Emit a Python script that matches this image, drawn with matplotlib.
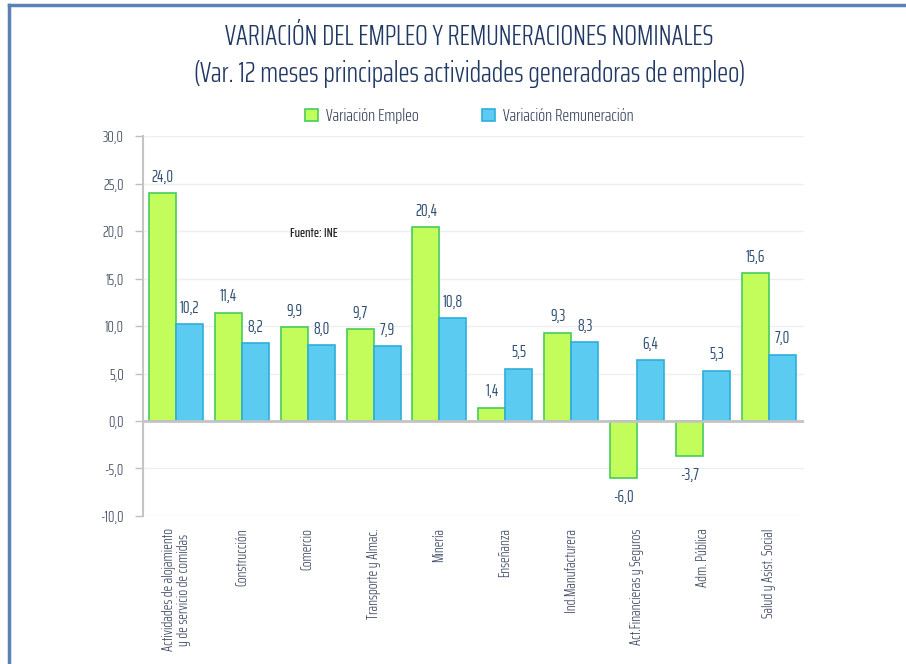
import matplotlib
matplotlib.use('Agg')
import matplotlib.pyplot as plt
import numpy as np
from matplotlib.lines import Line2D

plt.rcParams['font.family'] = ['Saira ExtraCondensed', 'Roboto Condensed', 'DejaVu Sans']
plt.rcParams['font.weight'] = 300

categorias = ['Actividades de alojamiento\ny de servicio de comidas', 'Construcción', 'Comercio',
              'Transporte y Almac.', 'Minería', 'Enseñanza', 'Ind.Manufacturera',
              'Act.Financieras y Seguros', 'Adm. Pública', 'Salud y Asist. Social']
empleo = [24.0, 11.4, 9.9, 9.7, 20.4, 1.4, 9.3, -6.0, -3.7, 15.6]
remuneracion = [10.2, 8.2, 8.0, 7.9, 10.8, 5.5, 8.3, 6.4, 5.3, 7.0]
yticks = [-10, -5, 0, 5, 10, 15, 20, 25, 30]

verde, verde_borde = '#C3FD5C', '#45CC5C'
azul, azul_borde = '#5CCBF1', '#2FAEDC'
navy = '#1F3864'
lab_col = '#2E4D72'
tick_col = '#3B4660'

fig = plt.figure(figsize=(9.06, 6.64), dpi=100)
ax = fig.add_axes([0.158, 0.223, 0.729, 0.572])

x = np.arange(len(categorias))
w = 0.41
b1 = ax.bar(x - w/2, empleo, w, color=verde, edgecolor=verde_borde, linewidth=1.2,
            label='Variación Empleo', zorder=3)
b2 = ax.bar(x + w/2, remuneracion, w, color=azul, edgecolor=azul_borde, linewidth=1.2,
            label='Variación Remuneración', zorder=3)

def fmt(v):
    return ('%.1f' % v).replace('.', ',')

for bars, vals in ((b1, empleo), (b2, remuneracion)):
    for r, v in zip(bars, vals):
        cx = r.get_x() + r.get_width()/2
        if v >= 0:
            ax.annotate(fmt(v), (cx, v), xytext=(0, 6), textcoords='offset points',
                        ha='center', va='bottom', fontsize=12, color=lab_col, weight=400)
        else:
            ax.annotate(fmt(v), (cx, v), xytext=(0, -8), textcoords='offset points',
                        ha='center', va='top', fontsize=12, color=lab_col, weight=400)

ax.set_xlim(-0.5, len(categorias) - 0.47)
ax.set_ylim(-10, 30)
ax.set_yticks(yticks)
ax.set_yticklabels([fmt(v) for v in yticks], fontsize=11.5, color=tick_col)
ax.set_xticks(x)
ax.set_xticklabels(categorias, rotation=90, fontsize=11, color=tick_col, va='top', ha='center',
                   linespacing=1.1)
ax.tick_params(axis='x', length=0, pad=9)
ax.tick_params(axis='y', length=6, color='#BFBFBF', width=1, pad=8)

ax.yaxis.grid(True, color='#EFEFEF', linewidth=1, zorder=0)
ax.axhline(0, color='#C4C4C4', linewidth=2, zorder=4)
for s in ['top', 'right', 'bottom']:
    ax.spines[s].set_visible(False)
ax.spines['left'].set_color('#C4C4C4')
ax.spines['left'].set_linewidth(1.5)

ax.text(1.73, 19.7, 'Fuente: INE', fontsize=10, color='#222222', va='center', ha='left', weight=500)

fig.text(0.518, 0.944, 'VARIACIÓN DEL EMPLEO Y REMUNERACIONES NOMINALES',
         ha='center', va='center', fontsize=21.3, color=navy)
fig.text(0.518, 0.888, '(Var. 12 meses principales actividades generadoras de empleo)',
         ha='center', va='center', fontsize=21.3, color=navy)

fig.legend(handles=[b1, b2], loc='center', bbox_to_anchor=(0.518, 0.825), ncol=2,
           frameon=False, fontsize=13, columnspacing=3.5, handlelength=0.7,
           handleheight=0.7, handletextpad=0.45, labelcolor=tick_col)

# marco azul
fig.add_artist(Line2D([0.0095, 1.0], [0.992, 0.992], transform=fig.transFigure,
                      color='#5B82B4', linewidth=2.5))
fig.add_artist(Line2D([0.0095, 0.0095], [0.0, 0.992], transform=fig.transFigure,
                      color='#5B82B4', linewidth=2.5))

fig.savefig('out.png', dpi=100)
